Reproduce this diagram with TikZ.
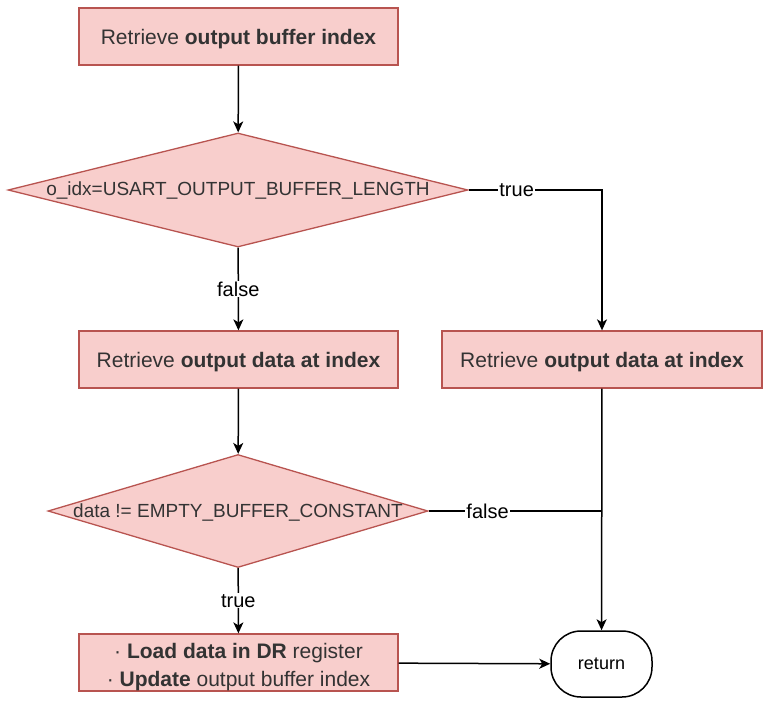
\documentclass[tikz,border=0pt]{standalone}
\usepackage{fontspec}
\setmainfont{Liberation Sans}
\usetikzlibrary{shapes.geometric,arrows.meta}
\definecolor{fillc}{HTML}{F8CECC}
\definecolor{strokec}{HTML}{B85450}
\definecolor{txt}{HTML}{333333}
\begin{document}
\begin{tikzpicture}[x=1pt,y=-1pt,
  procbox/.style={draw=strokec,fill=fillc,line width=1.3pt,minimum width=319pt,minimum height=57pt,
    text=txt,font=\fontsize{21}{28}\selectfont,inner sep=0pt,align=center},
  onel/.style={text height=16pt,text depth=0pt},
  boxtext/.style={text=txt,font=\fontsize{21}{28}\selectfont,inner sep=0pt,align=center},
  dec/.style={draw=strokec,fill=fillc,line width=1.3pt,diamond,inner sep=0pt},
  dectext/.style={text=txt,font=\fontsize{19}{23}\selectfont,inner sep=0pt,yshift=-1pt},
  term/.style={draw=black,line width=1.5pt,rounded corners=30pt,minimum width=101pt,minimum height=66pt,
    font=\fontsize{18}{22}\selectfont,inner sep=0pt},
  arr/.style={line width=1.5pt,-{Stealth[length=11pt,width=10pt,inset=3pt]}},
  conn/.style={line width=1.5pt},
  lbl/.style={fill=white,inner sep=1pt,font=\fontsize{20}{24}\selectfont,text=black}
]
\useasboundingbox (0,0) rectangle (768,704);
\node[procbox,onel] (b1) at (238.5,36.5) {Retrieve \textbf{output buffer index}};
\node[dec,minimum width=460pt,minimum height=114pt,label={[dectext]center:o\_idx=USART\_OUTPUT\_BUFFER\_LENGTH}] (d1) at (238,190) {};
\node[procbox,onel] (b2) at (238.5,359.5) {Retrieve \textbf{output data at index}};
\node[procbox,onel,minimum width=320pt] (b3) at (602,359.5) {Retrieve \textbf{output data at index}};
\node[dec,minimum width=380pt,minimum height=113pt,label={[dectext]center:data != EMPTY\_BUFFER\_CONSTANT}] (d2) at (238,511) {};
\node[procbox,label={[boxtext,yshift=-5pt]center:· \textbf{Load data in DR} register\\· \textbf{Update} output buffer index}] (b4) at (238.5,662.5) {};
\node[term] (ret) at (601.5,664) {return};
\draw[arr] (b1) -- (d1);
\draw[arr] (d1) -- node[lbl]{false} (b2);
\draw[arr] (d1.east) -| node[lbl,pos=0.18]{true} (b3.north);
\draw[arr] (b2) -- (d2);
\draw[arr] (d2) -- node[lbl]{true} (b4);
\draw[arr] (b3) -- (ret);
\draw[conn] (d2.east) -- node[lbl,pos=0.34]{false} (d2.east -| b3.south);
\draw[arr] (b4) -- (ret);
\end{tikzpicture}
\end{document}
